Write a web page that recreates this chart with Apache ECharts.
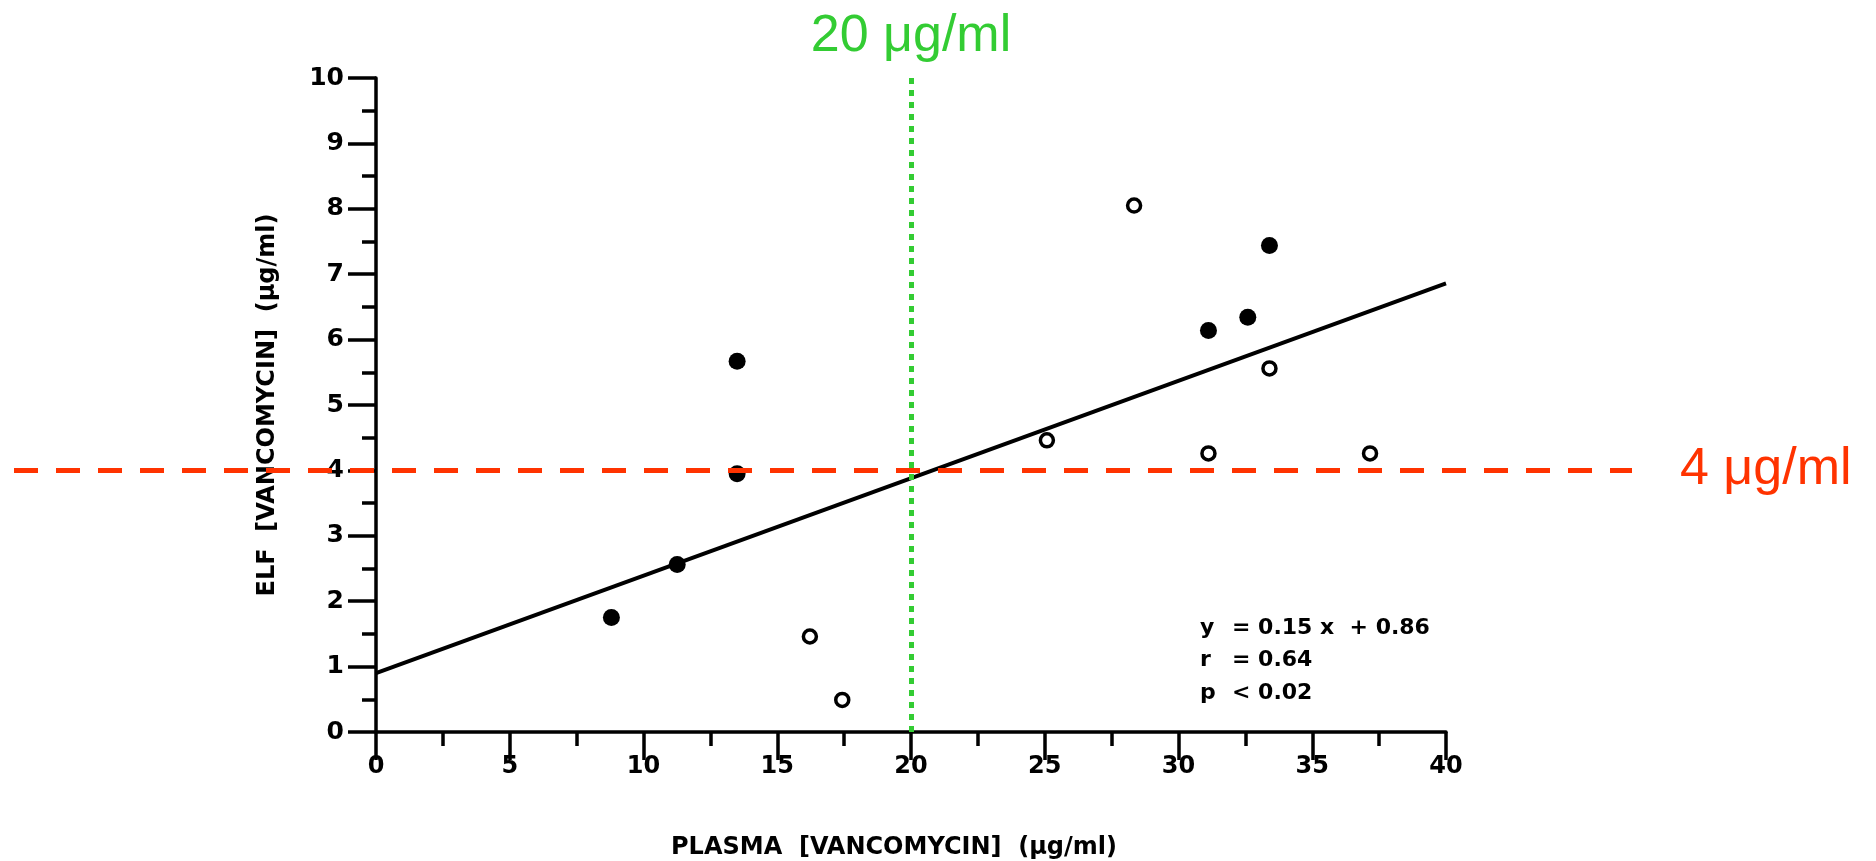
<!DOCTYPE html>
<html>
<head>
<meta charset="utf-8">
<script src="https://cdn.jsdelivr.net/npm/echarts@6/dist/echarts.min.js"></script>
<style>
html,body{margin:0;padding:0;background:#fff;}
#chart{width:1876px;height:861px;}
</style>
</head>
<body>
<div id="chart"></div>
<script>
// ---- data ----
const filledX = [8.8, 11.26, 13.5, 13.5, 31.12, 32.59, 33.4];
const filledY = [1.75, 2.56, 5.67, 3.95, 6.14, 6.34, 7.44];
const openX = [16.22, 17.43, 25.08, 28.34, 31.12, 33.4, 37.16];
const openY = [1.46, 0.49, 4.46, 8.05, 4.26, 5.56, 4.26];
const fitX = [0, 40];
const fitY = [0.9, 6.86];
const plasmaThreshold = 20;
const elfThreshold = 4;
const plasmaLabel = '20 μg/ml';
const elfLabel = '4 μg/ml';
const xTitle = 'PLASMA  [VANCOMYCIN]  (μg/ml)';
const yTitle = 'ELF  [VANCOMYCIN]  (μg/ml)';
const statsLabels = ['y', 'r', 'p'];
const statsValues = ['= 0.15 x  + 0.86', '= 0.64', '< 0.02'];

const zip = (a, b) => a.map((v, i) => [v, b[i]]);

const chart = echarts.init(document.getElementById('chart'), null, {renderer: 'canvas'});
const boldFont = 'DejaVu Sans';
const axisCommon = {
  axisLine: {show: true, onZero: false, lineStyle: {color: '#000', width: 3.5}},
  axisTick: {show: true, length: 28, lineStyle: {color: '#000', width: 3.5}},
  minorTick: {show: true, splitNumber: 2, length: 14, lineStyle: {color: '#000', width: 3.5}},
  splitLine: {show: false},
  axisLabel: {color: '#000', fontFamily: boldFont, fontWeight: 'bold', fontSize: 24},
  nameTextStyle: {color: '#000', fontFamily: boldFont, fontWeight: 'bold', fontSize: 24}
};

chart.setOption({
  animation: false,
  backgroundColor: '#fff',
  grid: {left: 376, right: 430, top: 78, bottom: 129, containLabel: false, outerBoundsMode: 'none'},
  xAxis: Object.assign({}, axisCommon, {
    type: 'value', min: 0, max: 40, interval: 5,
    name: xTitle, nameLocation: 'middle', nameGap: 104,
    nameTextStyle: Object.assign({}, axisCommon.nameTextStyle, {padding: [0, 34, 0, 0]}),
    axisLabel: Object.assign({}, axisCommon.axisLabel, {margin: 23})
  }),
  yAxis: Object.assign({}, axisCommon, {
    type: 'value', min: 0, max: 10, interval: 1,
    name: yTitle, nameLocation: 'middle', nameGap: 96, nameRotate: 90,
    axisLabel: Object.assign({}, axisCommon.axisLabel, {margin: 32, fontSize: 25})
  }),
  series: [
    {
      type: 'line', data: zip(fitX, fitY), showSymbol: false, symbol: 'none',
      lineStyle: {color: '#000', width: 4}, z: 2,
      markLine: {
        silent: true, symbol: 'none', label: {show: false},
        lineStyle: {color: '#33cc33', width: 5, type: [6, 6], opacity: 1},
        data: [{xAxis: plasmaThreshold}]
      }
    },
    {
      type: 'scatter', data: zip(filledX, filledY), symbol: 'circle', symbolSize: 17,
      itemStyle: {color: '#000', opacity: 1}, z: 3
    },
    {
      type: 'scatter', data: zip(openX, openY), symbol: 'circle', symbolSize: 13,
      itemStyle: {color: '#fff', borderColor: '#000', borderWidth: 3.5, opacity: 1}, z: 3
    }
  ]
});

const pThr = chart.convertToPixel({gridIndex: 0}, [plasmaThreshold, elfThreshold]);
const graphics = [
  {
    type: 'line', z: 100, silent: true,
    shape: {x1: 14, y1: pThr[1], x2: 1632, y2: pThr[1]},
    style: {stroke: '#ff3300', lineWidth: 5, lineDash: [24, 18]}
  },
  {
    type: 'text', z: 100, x: pThr[0], y: 37,
    style: {text: plasmaLabel, fill: '#33cc33', font: '52px "Liberation Sans"', textAlign: 'center', textVerticalAlign: 'middle'}
  },
  {
    type: 'text', z: 100, x: 1680, y: pThr[1] - 1,
    style: {text: elfLabel, fill: '#ff3300', font: '52px "Liberation Sans"', textAlign: 'left', textVerticalAlign: 'middle'}
  }
];
const statsTop = 628;
statsLabels.forEach((lab, i) => {
  const y = statsTop + i * 32.7;
  graphics.push({type: 'text', z: 50, x: 1200, y: y,
    style: {text: lab, fill: '#000', font: 'bold 22px "DejaVu Sans"', textAlign: 'left', textVerticalAlign: 'middle'}});
  graphics.push({type: 'text', z: 50, x: 1232, y: y,
    style: {text: statsValues[i], fill: '#000', font: 'bold 22px "DejaVu Sans"', textAlign: 'left', textVerticalAlign: 'middle'}});
});
chart.setOption({graphic: graphics});
</script>
</body>
</html>
